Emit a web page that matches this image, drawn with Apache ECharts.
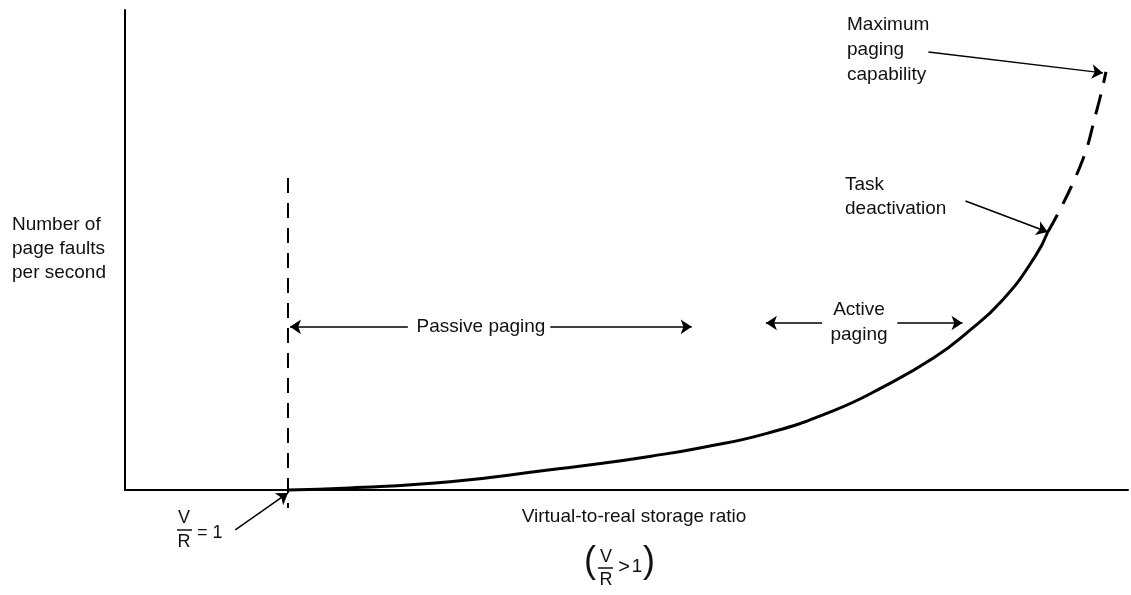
<!DOCTYPE html>
<html>
<head>
<meta charset="utf-8">
<script src="https://cdn.jsdelivr.net/npm/echarts@6/dist/echarts.min.js"></script>
<style>
html,body{margin:0;padding:0;background:#fff;}
#c{width:1131px;height:595px;}
</style>
</head>
<body>
<div id="c"></div>
<script>
// Solid part of the page-fault curve (abstract units 0..100)
const curveX = [16.25, 22.4, 32.4, 42.4, 47.4, 52.3, 57.3, 64.0, 70.6, 75.6, 80.6, 83.9, 87.5, 90.7, 92.0];
const curveY = [0, 0.4, 1.7, 4.2, 5.5, 7.0, 8.75, 11.8, 16.5, 21.5, 27.5, 32.7, 39.6, 48.5, 53.75];
// Dashed continuation up to maximum paging capability
const dashX = [92.0, 95.2, 96.9, 97.8];
const dashY = [53.75, 67.3, 79.2, 87.1];
// Vertical dashed line at V/R = 1
const vrX = [16.25, 16.25];
const vrY = [65, -3.75];
// Annotation arrows: [fromX, fromY, toX, toY]
const arrowFromX = [28.2, 42.4, 69.5, 77.0, 80.1, 83.8, 11.0];
const arrowFromY = [34.0, 34.0, 34.8, 34.8, 91.25, 60.2, -8.3];
const arrowToX   = [16.45, 56.5, 63.9, 83.5, 97.5, 92.0, 16.25];
const arrowToY   = [34.0, 34.0, 34.8, 34.8, 86.9, 53.75, -0.6];
// Texts
const yTitle = ['Number of', 'page faults', 'per second'];
const xTitle = 'Virtual-to-real storage ratio';
const passiveLabel = 'Passive paging';
const activeLabel = ['Active', 'paging'];
const maxLabel = ['Maximum', 'paging', 'capability'];
const taskLabel = ['Task', 'deactivation'];

const chart = echarts.init(document.getElementById('c'), null, {renderer: 'canvas'});
const FONT = '"Liberation Sans", Arial, sans-serif';
const TXT = '#111';

function zip(xs, ys){ return xs.map((x,i)=>[x, ys[i]]); }

const arrows = arrowFromX.map((x,i)=>({coords: [[x, arrowFromY[i]], [arrowToX[i], arrowToY[i]]]}));

function txt(s, x, y, align, size, weight){
  return {type:'text', x:x, y:y, style:{text:s, font:(weight||'normal')+' '+(size||19)+'px '+FONT, fill:TXT, textAlign:align||'left', textVerticalAlign:'middle'}};
}

const graphics = [];
yTitle.forEach((s,i)=>graphics.push(txt(s, 12, 225 + i*24, 'left')));
graphics.push(txt(xTitle, 634, 517, 'center'));
// V/R = 1
graphics.push(txt('V', 184, 518, 'center', 18));
graphics.push({type:'line', shape:{x1:177,y1:530,x2:192,y2:530}, style:{stroke:'#111', lineWidth:1.5}});
graphics.push(txt('R', 184, 542, 'center', 18));
graphics.push(txt('= 1', 197, 533, 'left', 18));
// (V/R > 1)
graphics.push(txt('(', 590, 562, 'center', 36, '300'));
graphics.push(txt('V', 606, 557, 'center', 18));
graphics.push({type:'line', shape:{x1:598,y1:568,x2:613,y2:568}, style:{stroke:'#111', lineWidth:1.5}});
graphics.push(txt('R', 606, 580, 'center', 18));
graphics.push(txt('>', 624, 567, 'center', 20));
graphics.push(txt('1', 637, 567, 'center', 19));
graphics.push(txt(')', 649, 562, 'center', 36, '300'));
// in-plot labels
graphics.push(txt(passiveLabel, 481, 327, 'center'));
activeLabel.forEach((s,i)=>graphics.push(txt(s, 859, 310 + i*25, 'center')));
maxLabel.forEach((s,i)=>graphics.push(txt(s, 847, 25 + i*25, 'left')));
taskLabel.forEach((s,i)=>graphics.push(txt(s, 845, 185 + i*24, 'left')));

chart.setOption({
  animation: false,
  backgroundColor: '#fff',
  grid: {left: 125, right: 3, top: 10, bottom: 105},
  xAxis: {type:'value', min:0, max:100, axisLine:{show:true, lineStyle:{color:'#000', width:2}}, axisTick:{show:false}, axisLabel:{show:false}, splitLine:{show:false}},
  yAxis: {type:'value', min:0, max:100, axisLine:{show:true, lineStyle:{color:'#000', width:2}}, axisTick:{show:false}, axisLabel:{show:false}, splitLine:{show:false}},
  graphic: graphics,
  series: [
    {type:'line', data: zip(curveX, curveY), smooth:0.5, symbol:'none', clip:false,
     lineStyle:{color:'#000', width:3}},
    {type:'line', data: zip(dashX, dashY), smooth:0.5, symbol:'none', clip:false,
     lineStyle:{color:'#000', width:3, type:[20,12]}},
    {type:'line', data: zip(vrX, vrY), symbol:'none', clip:false,
     lineStyle:{color:'#000', width:2, type:[15,10]}},
    {type:'lines', coordinateSystem:'cartesian2d', data: arrows, clip:false,
     symbol:['none','arrow'], symbolSize:[7,11],
     lineStyle:{color:'#000', width:1.5, opacity:1}}
  ]
});
</script>
</body>
</html>
